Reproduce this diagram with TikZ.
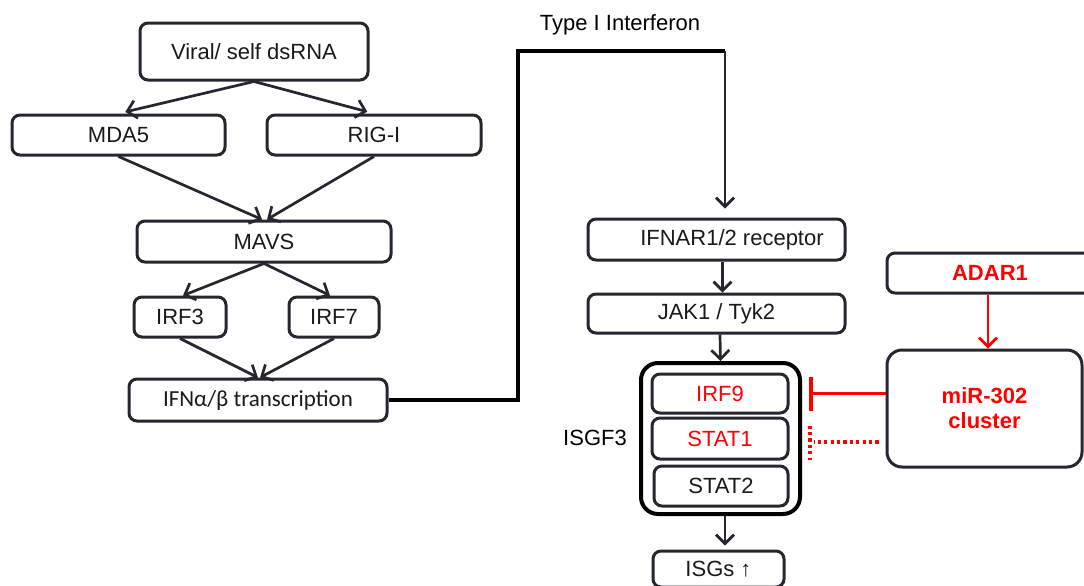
\documentclass[tikz,border=0pt]{standalone}
\usepackage{fontspec}
\setmainfont{Liberation Sans}
\newfontfamily\calibrifont{Carlito}
\usetikzlibrary{arrows.meta}
\definecolor{boxline}{RGB}{38,38,48}

\begin{document}
\begin{tikzpicture}%
        [x=0.5pt, y=-0.5pt,
        box/.style={draw=boxline, line width=1.5pt, rounded corners=4pt, inner sep=0pt, text=black!90, font=\fontsize{11}{13}\selectfont},
        redbox/.style={box, text=red, font=\fontsize{11}{12.5}\selectfont\bfseries},
        arr/.style={draw=boxline, line width=1.35pt, -{Straight Barb[length=4.5pt,width=9pt]}},
        redarr/.style={draw=red, line width=1.4pt, -{Straight Barb[length=4.5pt,width=9pt]}},
        link/.style={draw=black, line width=2pt},
        inhib/.style={draw=red, line width=1.5pt, -{Bar[width=17pt,line width=2pt]}},
        dotline/.style={draw=red, line width=1.6pt, dash pattern=on 1.6pt off 1.6pt}]

    \useasboundingbox (0,0) rectangle (1084,585);
    \clip (0,0) rectangle (1084,585);

    %% Sensing: dsRNA -> MDA5 / RIG-I -> MAVS -> IRF3 / IRF7
    \node[box, minimum width=114pt, minimum height=28.5pt] (dsrna) at (254, 51.5) {Viral/ self dsRNA};
    \node[box, minimum width=106.5pt, minimum height=20pt] (mda5) at (118.5, 135) {MDA5};
    \node[box, minimum width=107pt, minimum height=20pt] (rigi) at (374, 135) {RIG-I};
    \node[box, minimum width=127pt, minimum height=20.5pt] (mavs) at (264, 241.5) {MAVS};
    \node[box, minimum width=46pt, minimum height=20pt] (irf3) at (180, 317) {IRF3};
    \node[box, minimum width=45pt, minimum height=20pt] (irf7) at (334, 317) {IRF7};
    \node[box, minimum width=129pt, minimum height=21pt, font=\calibrifont\fontsize{11.5}{13}\selectfont] (ifn) at (258, 400) {IFNα/β transcription};

    \draw[arr, shorten >=3.5pt] (dsrna.south) -- (mda5.north);
    \draw[arr, shorten >=3.5pt] (dsrna.south) -- (rigi.north);
    \draw[arr] (mda5.south) -- ([xshift=-1pt]mavs.north);
    \draw[arr] (rigi.south) -- ([xshift=1.5pt]mavs.north);
    \draw[arr] (mavs.south) -- ([xshift=1.5pt]irf3.north);
    \draw[arr] (mavs.south) -- ([xshift=-2pt]irf7.north);
    \draw[arr] (irf3.south) -- (ifn.north);
    \draw[arr] (irf7.south) -- ([xshift=1pt]ifn.north);

    %% Type I IFN signalling
    \node (typei) at (620, 25) [font=\fontsize{11}{13}\selectfont] {Type I Interferon};
    \node[box, minimum width=128.5pt, minimum height=20.5pt] (ifnar) at (716.5, 239.5) {\hspace*{15.5pt}IFNAR1/2 receptor};
    \node[box, minimum width=128.5pt, minimum height=19.5pt] (jak) at (716.5, 313.5) {JAK1 / Tyk2};

    \coordinate (ifnup) at (518, 51);
    \coordinate (ifnover) at (725, 51);
    \draw[link] (ifn.east) -| (ifnup) -- (ifnover);
    \draw[arr, shorten >=4.5pt] (ifnover) -- (ifnover |- ifnar.north);
    \draw[arr] ([xshift=3pt]ifnar.south) -- ([xshift=3pt]jak.north);

    %% ISGF3 complex
    \node[draw=black, line width=2pt, rounded corners=8.5pt, minimum width=79.5pt, minimum height=75.5pt] (isgf3) at (720.5, 438.5) {};
    \node[box, text=red, minimum width=68pt, minimum height=19.5pt] (irf9) at (720, 393.5) {IRF9};
    \node[box, text=red, minimum width=68pt, minimum height=20.5pt] (stat1) at (720, 438.5) {STAT1};
    \node[box, minimum width=67pt, minimum height=20pt] (stat2) at (721, 486) {STAT2};
    \node (isgf3lab) at (595, 438) [font=\fontsize{11}{13}\selectfont] {ISGF3};
    \node[box, minimum width=65.5pt, minimum height=18pt] (isgs) at (718.5, 569) {ISGs ↑};

    \draw[arr] ([xshift=1.75pt]jak.south) -- (isgf3.north);
    \draw[arr, shorten >=2pt] ([xshift=2.25pt]isgf3.south) -- ([xshift=3.25pt]isgs.north);

    %% ADAR1 / miR-302 arm
    \node[redbox, minimum width=103pt, minimum height=20pt] (adar) at (990, 273) {ADAR1};
    \node[redbox, rounded corners=7.5pt, minimum width=97.5pt, minimum height=58.5pt, align=center] (mir) at (984.5, 408.5) {miR-302\\cluster};

    \draw[redarr] ([xshift=-1pt]adar.south) -- ([xshift=-1pt]adar.south |- mir.north);

    \coordinate (irf9r) at (isgf3.east |- irf9.east);
    \coordinate (stat1r) at (isgf3.east |- stat1.east);
    \draw[inhib, shorten >=3.5pt] (mir.west |- irf9r) -- (irf9r);
    \draw[dotline] ([xshift=-3.5pt,yshift=-1.75pt]mir.west |- stat1r) -- ([xshift=6pt,yshift=-1.75pt]stat1r);
    \draw[dotline] ([xshift=4pt,yshift=6.5pt]stat1r) -- ([xshift=4pt,yshift=-10.5pt]stat1r);
\end{tikzpicture}
\end{document}
